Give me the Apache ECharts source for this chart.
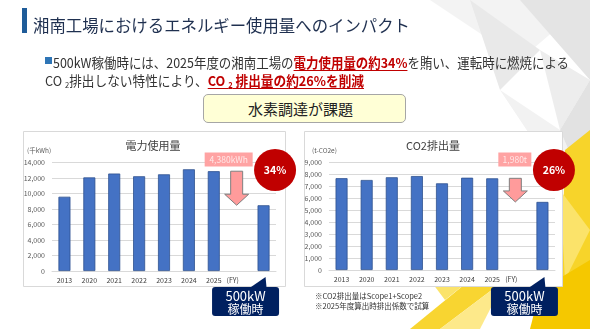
<!DOCTYPE html>
<html>
<head>
<meta charset="utf-8">
<script src="https://cdn.jsdelivr.net/npm/echarts@6/dist/echarts.min.js"></script>
<style>
body { margin: 0; background: #fff; }
#slide { position: absolute; left: 0; top: 0; width: 590px; height: 329px; }
.t { position: absolute; white-space: nowrap; font-family: "Noto Sans CJK JP", sans-serif; transform-origin: 0 50%; }
.red { color: #c00000; font-weight: bold; text-decoration: underline; text-decoration-thickness: 1px; text-underline-offset: 2px; }
sub { font-size: 0.6em; vertical-align: -0.25em; }
#box { position: absolute; left: 203px; top: 94px; width: 193px; height: 27px; padding-right: 8px; border: 1px solid #a6a6a6; border-radius: 5px;
       background: #ffffd6; font-family: "Noto Sans CJK JP", sans-serif; font-size: 15px; line-height: 27px; text-align: center; color: #222; }
</style>
</head>
<body>
<div id="slide"></div>
<div style="position:absolute;left:22px;top:8px;width:5px;height:25px;background:#1f5c99;"></div>
<div class="t" id="title" data-w="377" style="left:33px;top:12px;font-size:16.5px;line-height:26px;color:#1f3050;">湘南工場におけるエネルギー使用量へのインパクト</div>
<div style="position:absolute;left:45px;top:57px;width:7px;height:7px;background:#2e75b6;"></div>
<div class="t" id="line1" data-w="516" style="left:53px;top:52px;font-size:13.5px;line-height:20px;color:#333;">500kW稼働時には、2025年度の湘南工場の<span class="red">電力使用量の約34%</span>を賄い、運転時に燃焼による</div>
<div class="t" id="line2" data-w="319" style="left:45px;top:70px;font-size:13.5px;line-height:20px;color:#333;">CO <sub>2</sub>排出しない特性により、<span class="red">CO <sub>2</sub> 排出量の約26%を削減</span></div>
<div id="box">水素調達が課題</div>
<script>
// data
var years = ['2013', '2020', '2021', '2022', '2023', '2024', '2025', '(FY)', ''];
var powerUse = [9600, 12100, 12600, 12250, 12500, 13150, 12900, null, 8500];
var co2Emit = [7700, 7550, 7780, 7880, 7270, 7740, 7690, null, 5710];
var powerAxis = [0, 14000, 2000];
var co2Axis = [0, 9000, 1000];
var cutLabels = ['4,380kWh', '1,980t'];
var cutRates = ['34%', '26%'];

var FONT = '"Noto Sans CJK JP", sans-serif';

// fit header lines to their width on the slide
document.querySelectorAll('[data-w]').forEach(function (el) {
    var w = el.getBoundingClientRect().width;
    el.style.transform = 'scaleX(' + (el.getAttribute('data-w') / w) + ')';
});

var myChart = echarts.init(document.getElementById('slide'));

function yAxisOf(idx, ax) {
    return {
        gridIndex: idx, min: ax[0], max: ax[1], interval: ax[2],
        axisLine: { show: false }, axisTick: { show: false },
        splitLine: { lineStyle: { color: '#d9d9d9', width: 1 } },
        axisLabel: { fontSize: 7, color: '#595959', margin: 7, fontFamily: FONT,
            formatter: function (v) { return v.toLocaleString('en-US'); } }
    };
}
function xAxisOf(idx) {
    return {
        gridIndex: idx, type: 'category', data: years,
        axisTick: { show: false },
        axisLine: { lineStyle: { color: '#d9d9d9' } },
        axisLabel: { fontSize: 7, color: '#404040', margin: 6, interval: 0, fontFamily: FONT,
            formatter: function (v) { return v === '(FY)' ? '{fy|' + v + '}' : v; },
            rich: { fy: { fontSize: 7, color: '#404040', padding: [0, 12, 0, 0] } } }
    };
}
function barsOf(idx, data) {
    return {
        type: 'bar', xAxisIndex: idx, yAxisIndex: idx, data: data, barWidth: 12,
        itemStyle: { color: '#4472c4', borderColor: '#2f528f', borderWidth: 0.8 }
    };
}

// background shards
var deco = [
    { p: [[430, 0], [590, 0], [520, 60]], c: '#f3f3f3' },
    { p: [[470, 0], [540, 50], [500, 90]], c: '#e9e9e9' },
    { p: [[520, 0], [590, 0], [590, 80]], c: '#e4e4e4' },
    { p: [[540, 50], [590, 80], [560, 130]], c: '#ededed' },
    { p: [[500, 90], [560, 130], [590, 200], [540, 150]], c: '#f2f2f2' },
    { p: [[560, 130], [590, 80], [590, 200]], c: '#e2e2e2' },
    { p: [[565, 150], [590, 130], [590, 329], [560, 329]], c: '#f7d42a' },
    { p: [[560, 190], [590, 230], [565, 280]], c: '#fbe36a' },
    { p: [[540, 290], [590, 260], [590, 329], [530, 329]], c: '#f5c800' },
    { p: [[410, 329], [470, 280], [505, 280], [440, 329]], c: '#f8d531' },
    { p: [[440, 329], [505, 280], [480, 329]], c: '#fde98a' },
    { p: [[430, 280], [470, 280], [445, 300]], c: '#fbe36a' }
];
var graphics = deco.map(function (d) {
    return { type: 'polygon', z: -200, shape: { points: d.p }, style: { fill: d.c } };
});
graphics.push(
    { type: 'rect', z: -100, shape: { x: 23.5, y: 131.5, width: 262, height: 155 }, style: { fill: '#fff', stroke: '#d9d9d9', lineWidth: 1 } },
    { type: 'rect', z: -100, shape: { x: 304.5, y: 131.5, width: 258, height: 155 }, style: { fill: '#fff', stroke: '#d9d9d9', lineWidth: 1 } },
    { type: 'text', x: 153, y: 146, style: { text: '電力使用量', font: '11px ' + FONT, fill: '#404040', align: 'center', verticalAlign: 'middle' } },
    { type: 'text', x: 433, y: 146, style: { text: 'CO2排出量', font: '11px ' + FONT, fill: '#404040', align: 'center', verticalAlign: 'middle' } },
    { type: 'text', x: 27, y: 151, style: { text: '(千kWh)', font: '6.5px ' + FONT, fill: '#595959', verticalAlign: 'middle' } },
    { type: 'text', x: 312, y: 151, style: { text: '(t-CO2e)', font: '6.5px ' + FONT, fill: '#595959', verticalAlign: 'middle' } },
    { type: 'text', x: 315, y: 296, style: { text: '※CO2排出量はScope1+Scope2', font: '7.5px ' + FONT, fill: '#333', verticalAlign: 'middle' } },
    { type: 'text', x: 315, y: 306, style: { text: '※2025年度算出時排出係数で試算', font: '7.5px ' + FONT, fill: '#333', verticalAlign: 'middle' } }
);

myChart.setOption({
    animation: false,
    grid: [
        { left: 52, width: 224, top: 162.7, height: 108.3 },
        { left: 329, width: 226, top: 162.7, height: 107.3 }
    ],
    xAxis: [xAxisOf(0), xAxisOf(1)],
    yAxis: [yAxisOf(0, powerAxis), yAxisOf(1, co2Axis)],
    series: [barsOf(0, powerUse), barsOf(1, co2Emit)],
    graphic: graphics
});

// annotations placed from the axes
function notes(g, data, label, rate, labelW) {
    var last = data.length - 1;
    var before = last - 2;
    var top = myChart.convertToPixel({ gridIndex: g }, [before, data[before]]);
    var tip = myChart.convertToPixel({ gridIndex: g }, [last, data[last]]);
    var slot = myChart.convertToPixel({ gridIndex: g }, [last - 1, 0]);
    var base = myChart.convertToPixel({ gridIndex: g }, [last, 0]);
    var cx = slot[0] - 2, y0 = top[1], y1 = tip[1];
    var out = [];
    out.push({
        type: 'polygon', z: 50,
        shape: { points: [[cx - 6, y0], [cx + 6, y0], [cx + 6, y1 - 11], [cx + 12, y1 - 11], [cx, y1], [cx - 12, y1 - 11], [cx - 6, y1 - 11]] },
        style: { fill: '#ff9b9b', stroke: '#7f7f7f', lineWidth: 1 }
    });
    out.push({ type: 'rect', z: 50, shape: { x: slot[0] + 14 - labelW, y: 152.5, width: labelW, height: 14 }, style: { fill: '#ffa3a3' } });
    out.push({ type: 'text', z: 51, x: slot[0] + 14 - labelW / 2, y: 159.5,
        style: { text: label, font: '8.5px ' + FONT, fill: '#ffe8e8', align: 'center', verticalAlign: 'middle' } });
    out.push({ type: 'circle', z: 50, shape: { cx: tip[0] + 11.5, cy: 170, r: 21 }, style: { fill: '#c00000' } });
    out.push({ type: 'text', z: 51, x: tip[0] + 11.5, y: 170,
        style: { text: rate, font: 'bold 10.5px ' + FONT, fill: '#fff', align: 'center', verticalAlign: 'middle' } });
    var bx = base[0];
    out.push({ type: 'polygon', z: 50, shape: { points: [[bx - 14, 288], [bx + 2, 277], [bx + 3, 288]] }, style: { fill: '#002060' } });
    out.push({ type: 'rect', z: 50, shape: { x: bx - 51.5, y: 287, width: 67, height: 29, r: 3 }, style: { fill: '#002060' } });
    out.push({ type: 'text', z: 51, x: bx - 18, y: 296, style: { text: '500kW', font: '13px ' + FONT, fill: '#fff', align: 'center', verticalAlign: 'middle' } });
    out.push({ type: 'text', z: 51, x: bx - 18, y: 309, style: { text: '稼働時', font: '12px ' + FONT, fill: '#fff', align: 'center', verticalAlign: 'middle' } });
    return out;
}

myChart.setOption({
    graphic: graphics.concat(notes(0, powerUse, cutLabels[0], cutRates[0], 48), notes(1, co2Emit, cutLabels[1], cutRates[1], 33))
});
</script>
</body>
</html>
